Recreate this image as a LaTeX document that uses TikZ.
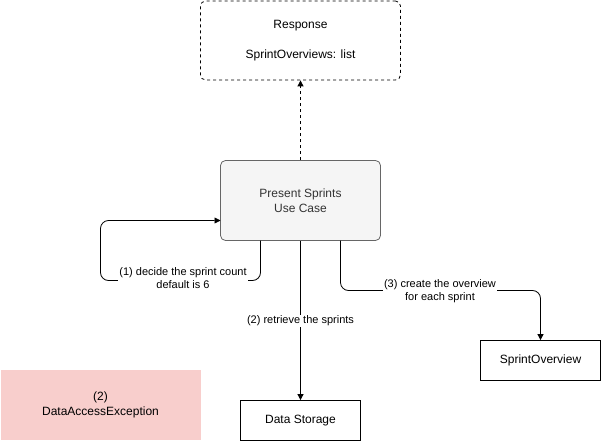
\documentclass[tikz,border=0pt]{standalone}
\usepackage{fontspec}
\setmainfont{Liberation Sans}
\usetikzlibrary{arrows.meta}
\definecolor{boxfill}{HTML}{F5F5F5}
\definecolor{boxline}{HTML}{666666}
\definecolor{boxtext}{HTML}{333333}
\definecolor{errfill}{HTML}{F8CECC}
\begin{document}
\begin{tikzpicture}[x=1pt,y=-1pt,
  every node/.style={font=\fontsize{12}{15}\selectfont, align=center, inner sep=0pt},
  plainbox/.style={draw=black, line width=0.8pt, minimum width=120pt, minimum height=40pt},
  usecase/.style={draw=boxline, fill=boxfill, text=boxtext, rounded corners=5pt, line width=0.8pt, minimum width=160pt, minimum height=80pt},
  respbox/.style={draw=black, dashed, rounded corners=5pt, line width=0.8pt, minimum width=200pt, minimum height=79pt},
  errbox/.style={fill=errfill, minimum width=200pt, minimum height=70pt},
  flow/.style={-{Triangle[length=6pt,width=6pt]}, line width=0.8pt, rounded corners=8pt},
  lbl/.style={fill=white, font=\fontsize{11}{13}\selectfont, inner sep=1pt}
]
\useasboundingbox (0,0) rectangle (601,441);

% boxes
\node[respbox] (resp) at (300.5,40.5) {Response\\[15pt]SprintOverviews: list};
\node[usecase] (uc) at (300.5,200.5) {Present Sprints\\Use Case};
\node[plainbox] (so) at (540.5,360.5) {SprintOverview};
\node[plainbox] (ds) at (300.5,420.5) {Data Storage};
\node[errbox] (err) at (100.5,405) {(2)\\DataAccessException};

% result back to the caller
\draw[flow, dashed] (uc.north) -- (resp.south);

% (1) self loop
\coordinate (l1) at (260.5,240.5);
\coordinate (l2) at (220.5,220.5);
\draw[flow] (l1) |- (183,280.5) -| (100.5,220.5) -- (l2);
\node[lbl] (lab1) at (183,278) {(1) decide the sprint count\\default is 6};

% (2) retrieve
\draw[flow] (uc.south) -- (ds.north);
\node[lbl] (lab2) at (300.5,321) {(2) retrieve the sprints};

% (3) create overviews
\coordinate (s3) at (340.5,240.5);
\draw[flow] (s3) |- (440,290.5) -| (so.north);
\node[lbl] (lab3) at (440,291) {(3) create the overview\\for each sprint};
\end{tikzpicture}
\end{document}
